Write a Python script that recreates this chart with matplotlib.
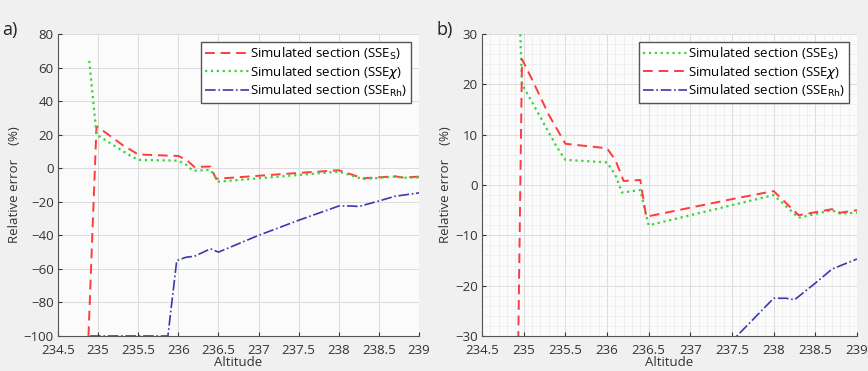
import numpy as np
import matplotlib
matplotlib.use("Agg")
import matplotlib.pyplot as plt
from matplotlib.ticker import MultipleLocator

plt.rcParams['font.family'] = ['Open Sans', 'DejaVu Sans']
plt.rcParams['mathtext.fontset'] = 'dejavusans'

### data
# red dashed curve
alt_red = [234.88, 234.98, 235.1, 235.3, 235.5, 236.0, 236.1, 236.2, 236.4, 236.47,
           237.0, 237.5, 238.0, 238.3, 238.7, 238.8, 239.0]
err_red = [-100, 25, 21, 14, 8.2, 7.3, 5, 0.8, 1, -6.3,
           -4.5, -2.8, -1.2, -6, -4.8, -5.5, -5]
# green dotted curve
alt_green = [234.89, 234.98, 235.1, 235.25, 235.4, 235.5, 236.0, 236.1, 236.18, 236.4, 236.5,
             237.0, 237.5, 238.0, 238.3, 238.7, 238.8, 239.0]
err_green = [64, 20, 16.5, 12, 7.5, 5, 4.5, 2, -1.5, -1, -8,
             -6, -4, -2, -6.5, -5, -5.7, -5.5]
# blue dash-dot curve
alt_blue = [234.9, 235.87, 235.98, 236.1, 236.2, 236.4, 236.5, 237.0, 237.5,
            238.0, 238.15, 238.25, 238.5, 238.7, 239.0]
err_blue = [-100, -100, -55, -53, -52.5, -48, -50, -40, -31,
            -22.5, -22.5, -22.8, -19.5, -16.7, -14.7]

xticks = [234.5, 235, 235.5, 236, 236.5, 237, 237.5, 238, 238.5, 239]
xtick_labels = ['234.5', '235', '235.5', '236', '236.5', '237', '237.5', '238', '238.5', '239']

lab_s = r'Simulated section (SSE$_\mathrm{S}$)'
lab_x = r'Simulated section (SSE$\chi$)'
lab_rh = r'Simulated section (SSE$_\mathrm{Rh}$)'

red = '#ff3b3b'
green = '#3fcf3f'
blue = '#3a3aaa'

fig = plt.figure(figsize=(8.68, 3.71), dpi=100, facecolor='#f0f0f0')
axa = fig.add_axes([0.0668, 0.0943, 0.416, 0.814])
axb = fig.add_axes([0.5553, 0.0943, 0.432, 0.814])

def style(ax, ylim, ystep, minor):
    ax.set_facecolor('#fbfbfb')
    ax.set_xlim(234.5, 239)
    ax.set_ylim(*ylim)
    ax.set_xticks(xticks)
    ax.set_xticklabels(xtick_labels)
    ax.yaxis.set_major_locator(MultipleLocator(ystep))
    ax.tick_params(direction='in', labelsize=9.5, colors='#333333', length=3)
    ax.tick_params(axis='x', pad=6)
    ax.tick_params(axis='y', pad=3)
    ax.grid(True, which='major', color='#dcdcdc', lw=0.7)
    if minor:
        ax.xaxis.set_minor_locator(MultipleLocator(0.1))
        ax.yaxis.set_minor_locator(MultipleLocator(2))
        ax.grid(True, which='minor', color='#ececec', lw=0.5)
        ax.tick_params(which='minor', length=0)
    ax.set_axisbelow(True)
    for s in ax.spines.values():
        s.set_color('#555555')
        s.set_linewidth(0.8)
    ax.spines['top'].set_visible(False)
    ax.spines['right'].set_visible(False)
    ax.set_xlabel('Altitude', fontsize=9.5, color='#333333', labelpad=-1)
    ax.set_ylabel('Relative error    (%)', fontsize=9.5, color='#333333', labelpad=2)

leg_kw = dict(loc='upper right', fontsize=9.5, fancybox=False, edgecolor='#555555',
              framealpha=1, handlelength=3.3, borderpad=0.3, labelspacing=0.15,
              handletextpad=0.1, borderaxespad=0.6)

# panel a
axa.plot(alt_red, err_red, '--', color=red, lw=1.4, dashes=(5, 3), label=lab_s)
axa.plot(alt_green, err_green, ':', color=green, lw=1.6, label=lab_x)
axa.plot(alt_blue, err_blue, '-.', color=blue, lw=1.2, label=lab_rh)
style(axa, (-100, 80), 20, False)
axa.legend(**leg_kw)

# panel b
axb.plot(alt_green, err_green, ':', color=green, lw=1.6, label=lab_s)
axb.plot(alt_red, err_red, '--', color=red, lw=1.4, dashes=(5, 3), label=lab_x)
axb.plot(alt_blue, err_blue, '-.', color=blue, lw=1.2, label=lab_rh)
style(axb, (-30, 30), 10, True)
axb.legend(**leg_kw)

fig.text(0.003, 0.905, 'a)', fontsize=13, color='#222222')
fig.text(0.503, 0.905, 'b)', fontsize=13, color='#222222')

fig.savefig('out.png', dpi=100, facecolor=fig.get_facecolor())
